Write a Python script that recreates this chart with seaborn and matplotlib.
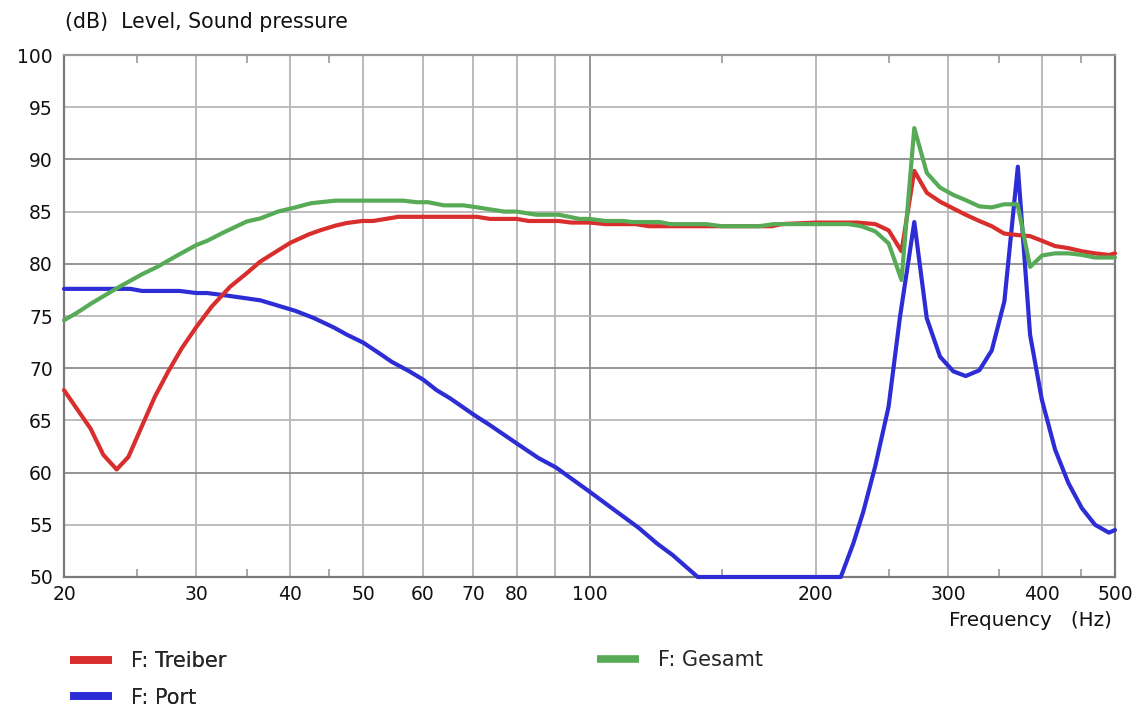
import numpy as np
import pandas as pd
import matplotlib
matplotlib.use("Agg")
import matplotlib.pyplot as plt
from matplotlib.lines import Line2D
import seaborn as sns

# Frequency response of driver, port and total (SPL in dB)
treiber_f = [20, 21.7, 22.56, 23.5, 24.36, 25.37, 26.43, 27.53, 28.68, 30.03, 31.44,
             33.26, 35.0, 36.46, 37.98, 39.97, 42.27, 43.8, 45.9, 47.5, 49.8, 51.5,
             55.7, 67.3, 70.8, 73.7, 80, 83, 91, 94.6, 100, 105, 115, 120, 175, 180,
             200, 227, 240, 250, 260, 270.4, 281, 292.6, 304.7, 316.5, 330, 342.8,
             356, 371, 385.5, 400, 416, 433.5, 452, 470, 491, 500]
treiber_db = [67.9, 64.2, 61.7, 60.3, 61.5, 64.4, 67.3, 69.7, 71.9, 74.0, 75.9,
              77.8, 79.1, 80.2, 81.0, 82.0, 82.8, 83.2, 83.65, 83.9, 84.1, 84.1,
              84.5, 84.5, 84.5, 84.3, 84.3, 84.1, 84.1, 83.95, 83.95, 83.8, 83.8, 83.6, 83.6, 83.8,
              83.95, 83.95, 83.8, 83.2, 81.2, 88.9, 86.8, 85.95, 85.3, 84.7, 84.1, 83.6,
              82.9, 82.75, 82.65, 82.2, 81.7, 81.5, 81.2, 81.0, 80.85, 81.0]

gesamt_f = [20, 20.8, 21.74, 23.5, 25.4, 26.6, 28.3, 30.0, 31.0, 32.6, 35.0, 36.5,
            38.5, 40.6, 42.6, 45.9, 56.5, 58.9, 61, 64, 68, 71, 77, 80, 85, 91, 97,
            100, 105, 111, 114, 124, 128, 143, 150, 168, 176, 221, 230, 240, 250,
            260, 270.4, 281, 292.6, 304.7, 316.5, 330, 342.8, 356, 371, 385.5, 400,
            416, 433.5, 452, 470, 500]
gesamt_db = [74.6, 75.3, 76.2, 77.65, 79.0, 79.7, 80.8, 81.8, 82.2, 83.0, 84.05, 84.35,
             85.0, 85.4, 85.8, 86.05, 86.05, 85.9, 85.9, 85.6, 85.6, 85.4, 85.0, 85.0, 84.7, 84.7, 84.3,
             84.3, 84.1, 84.1, 84.0, 84.0, 83.8, 83.8, 83.6, 83.6, 83.8, 83.8, 83.6, 83.1, 81.95,
             78.45, 93.0, 88.7, 87.3, 86.6, 86.1, 85.5, 85.4, 85.7, 85.7, 79.7, 80.8,
             81.0, 81.0, 80.85, 80.6, 80.6]

port_f = [20, 24.5, 25.4, 28.5, 30.0, 31.0, 33.0, 36.5, 38.9, 40.6, 43.0, 45.7, 47.6,
          50.0, 52.6, 54.6, 57.6, 60.1, 62.6, 65.3, 70.3, 73.7, 80, 85.5, 90.2, 99.9,
          106.6, 116.3, 123, 129, 139.3, 215.9, 224.3, 231.3, 239.9, 249.9, 258.8,
          270.4, 280.9, 292.6, 304.7, 316.5, 330, 342.8, 356.3, 371.3, 385.5, 399.6,
          416.2, 433.5, 451.7, 470.4, 490.7, 500]
port_db = [77.6, 77.6, 77.4, 77.4, 77.2, 77.2, 76.95, 76.5, 75.9, 75.5, 74.8, 73.9, 73.2,
           72.45, 71.4, 70.6, 69.7, 68.9, 67.9, 67.1, 65.5, 64.55, 62.8, 61.4, 60.5, 58.2,
           56.7, 54.7, 53.2, 52.1, 50.0, 50.0, 53.2, 56.25, 60.6, 66.3, 74.9,
           84.0, 74.8, 71.1, 69.7, 69.25, 69.8, 71.7, 76.4, 89.3, 73.2, 67.0,
           62.2, 59.0, 56.6, 55.0, 54.25, 54.5]

series_colors = {"F: Treiber": "#d92e2e", "F: Port": "#2d2dd6", "F: Gesamt": "#57ab57"}

x_ticks = [20, 30, 40, 50, 60, 70, 80, 100, 200, 300, 400, 500]
x_grid = [30, 40, 50, 60, 70, 80, 90, 100, 200, 300, 400]
x_minor = [25, 35, 45, 150, 250, 350, 450]
y_ticks = list(range(50, 101, 5))

sns.set_theme(style="white")
plt.rcParams["font.family"] = ["DejaVu Sans"]

fig = plt.figure(figsize=(11.42, 7.06), dpi=100)
ax = fig.add_axes([64 / 1142, 1 - 577 / 706, (1115 - 64) / 1142, (577 - 55) / 706])

# grid
for v in x_grid:
    ax.axvline(v, color="#8c8c8c" if v == 100 else "#b4b4b4", lw=1.3, zorder=0)
for v in y_ticks[1:-1]:
    ax.axhline(v, color="#8c8c8c" if v % 10 == 0 else "#b8b8b8", lw=1.3, zorder=0)

frames = {
    "F: Treiber": pd.DataFrame({"f": treiber_f, "db": treiber_db}),
    "F: Gesamt": pd.DataFrame({"f": gesamt_f, "db": gesamt_db}),
    "F: Port": pd.DataFrame({"f": port_f, "db": port_db}),
}
for name in ["F: Port", "F: Treiber", "F: Gesamt"]:
    sns.lineplot(data=frames[name], x="f", y="db", ax=ax, color=series_colors[name],
                 lw=3, estimator=None, sort=False, clip_on=False, zorder=3)

ax.set_xscale("log")
ax.set_xlim(20, 500)
ax.set_ylim(50, 100)
ax.set_xticks(x_ticks)
ax.set_xticklabels([str(t) for t in x_ticks])
ax.set_xticks(x_minor, minor=True)
ax.xaxis.set_minor_formatter(matplotlib.ticker.NullFormatter())
ax.set_yticks(y_ticks)
ax.set_yticklabels([str(t) for t in y_ticks])
ax.tick_params(axis="both", which="major", length=0, labelsize=13.5, colors="#111111", pad=8)
ax.tick_params(axis="x", which="major", pad=6)
ax.tick_params(axis="x", which="minor", direction="in", length=6, width=1.2,
               color="#9a9a9a", top=True, bottom=True)
ax.set_xlabel("")
ax.set_ylabel("")
for side, sp in ax.spines.items():
    sp.set_visible(True)
    sp.set_color("#7a7a7a" if side in ("left", "bottom", "right") else "#9a9a9a")
    sp.set_linewidth(1.6)

fig.text(65 / 1142, 1 - 22 / 706, "(dB)  Level, Sound pressure", fontsize=14.8,
         ha="left", va="center", color="#111111")
fig.text(1112 / 1142, 1 - 621 / 706, "Frequency   (Hz)", fontsize=14.3,
         ha="right", va="center", color="#111111")

def handle(name):
    return Line2D([], [], color=series_colors[name], lw=5.5, solid_capstyle="butt")

legend_kw = dict(loc="upper left", frameon=False, fontsize=15, handlelength=2.0,
                 handletextpad=0.95, borderaxespad=0, borderpad=0)
leg1 = fig.legend([handle("F: Treiber"), handle("F: Port")], ["F: Treiber", "F: Port"],
                  bbox_to_anchor=(70 / 1142, 1 - 651 / 706), labelspacing=0.8,
                  **legend_kw)
fig.legend([handle("F: Gesamt")], ["F: Gesamt"],
           bbox_to_anchor=(597 / 1142, 1 - 650 / 706), **legend_kw)
fig.add_artist(leg1)

fig.savefig("out.png", dpi=100)
